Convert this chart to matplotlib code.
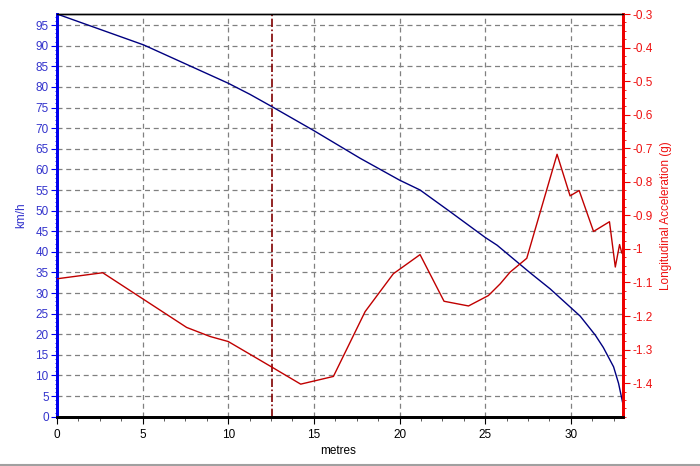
import matplotlib
matplotlib.use("Agg")
import matplotlib.pyplot as plt
from matplotlib.ticker import MultipleLocator
from matplotlib.lines import Line2D

# Speed (km/h) vs distance (metres)
speed_x = [0, 5.06, 10.0, 11.27, 12.56, 15.0, 17.7, 20.0, 21.2, 23.0, 25.0, 25.7,
           27.6, 28.8, 30.55, 31.43, 31.9, 32.5, 32.79, 33.02]
speed_v = [97.7, 90.2, 80.9, 78.2, 75.2, 69.4, 62.7, 57.4, 55.0, 49.6, 43.5, 41.6,
           35.0, 31.0, 24.4, 19.8, 16.8, 12.1, 8.1, 3.6]

# Longitudinal acceleration (g) vs distance (metres)
acc_x = [0, 2.67, 7.57, 8.94, 10.0, 12.54, 14.23, 16.14, 17.99, 19.64, 21.2, 22.6,
         24.03, 25.19, 25.88, 26.46, 27.43, 29.2, 29.96, 30.49, 31.33, 32.26,
         32.6, 32.85, 32.98]
acc_v = [-1.089, -1.071, -1.234, -1.261, -1.276, -1.352, -1.403, -1.38, -1.187,
         -1.074, -1.017, -1.156, -1.17, -1.139, -1.104, -1.069, -1.028, -0.718,
         -0.842, -0.826, -0.948, -0.919, -1.054, -0.987, -1.012]

marker_x = 12.56

left_ticks = list(range(0, 100, 5))
right_ticks = [-1.4, -1.3, -1.2, -1.1, -1.0, -0.9, -0.8, -0.7, -0.6, -0.5, -0.4, -0.3]
right_labels = ["-1.4", "-1.3", "-1.2", "-1.1", "-1", "-0.9", "-0.8", "-0.7",
                "-0.6", "-0.5", "-0.4", "-0.3"]
x_ticks = [0, 5, 10, 15, 20, 25, 30]

plt.rcParams['font.family'] = ['Liberation Sans', 'DejaVu Sans']

fig = plt.figure(figsize=(7.0, 4.66), dpi=100)
ax = fig.add_axes([57/700, (466-416.7)/466, (623-57)/700, (416.7-14)/466])
ax2 = ax.twinx()

LBLUE = '#3333cc'
RED = '#ee1111'

ax.set_xlim(0, 33.05)
ax.set_ylim(0, 97.7)
ax2.set_ylim(-1.5, -0.3)

ax.set_xticks(x_ticks)
ax.set_yticks(left_ticks)
ax.xaxis.set_minor_locator(MultipleLocator(1.25))
ax.yaxis.set_minor_locator(MultipleLocator(1))
ax2.set_yticks(right_ticks)
ax2.set_yticklabels(right_labels)
ax2.yaxis.set_minor_locator(MultipleLocator(0.025))

ax.grid(True, which='major', color='#808080', linestyle=(0, (4, 3)), linewidth=0.9)
ax.set_axisbelow(True)

ax.plot(speed_x, speed_v, color='#000080', linewidth=1.0, zorder=3)
ax2.plot(acc_x, acc_v, color='#c00000', linewidth=1.0, zorder=3)
ax.axvline(marker_x, color='#800000', linewidth=1.2, linestyle=(0, (5, 1.5, 1, 1.5)), zorder=2)

for a in (ax, ax2):
    a.spines['top'].set_color('black')
    a.spines['top'].set_linewidth(1.0)
    a.spines['bottom'].set_color('black')
    a.spines['bottom'].set_linewidth(2.0)
    a.spines['left'].set_color('#0000ee')
    a.spines['left'].set_linewidth(2.0)
    a.spines['right'].set_color('#ee0000')
    a.spines['right'].set_linewidth(2.0)

ax.tick_params(axis='x', which='major', length=5, width=0.8, colors='black', labelsize=8.5, pad=4)
ax.tick_params(axis='x', which='minor', length=3, width=0.6, colors='#404040')
ax.tick_params(axis='y', which='major', length=4, width=0.8, colors='#0000ee', labelcolor=LBLUE, labelsize=8.5, pad=2)
ax.tick_params(axis='y', which='minor', length=1.5, width=0.6, colors='#0000ee')
ax2.tick_params(axis='y', which='major', length=5, width=0.8, colors='#ee0000', labelcolor=RED, labelsize=8.5, pad=2)
ax2.tick_params(axis='y', which='minor', length=2.5, width=0.6, colors='#ee0000')

ax.set_xlabel('metres', fontsize=8.5, color='black', labelpad=4)
ax.xaxis.set_label_coords(0.497, -0.07)
ax.set_ylabel('km/h', fontsize=8.5, color=LBLUE)
ax.yaxis.set_label_coords(-0.052, 0.5)
ax2.set_ylabel('Longitudinal Acceleration (g)', fontsize=8.5, color=RED)
ax2.yaxis.set_label_coords(1.066, 0.5)

fig.add_artist(Line2D([0, 1], [1.5/466, 1.5/466], transform=fig.transFigure,
                      color='#a0a0a0', linewidth=1.5))

fig.savefig('out.png', dpi=100, facecolor='white')
